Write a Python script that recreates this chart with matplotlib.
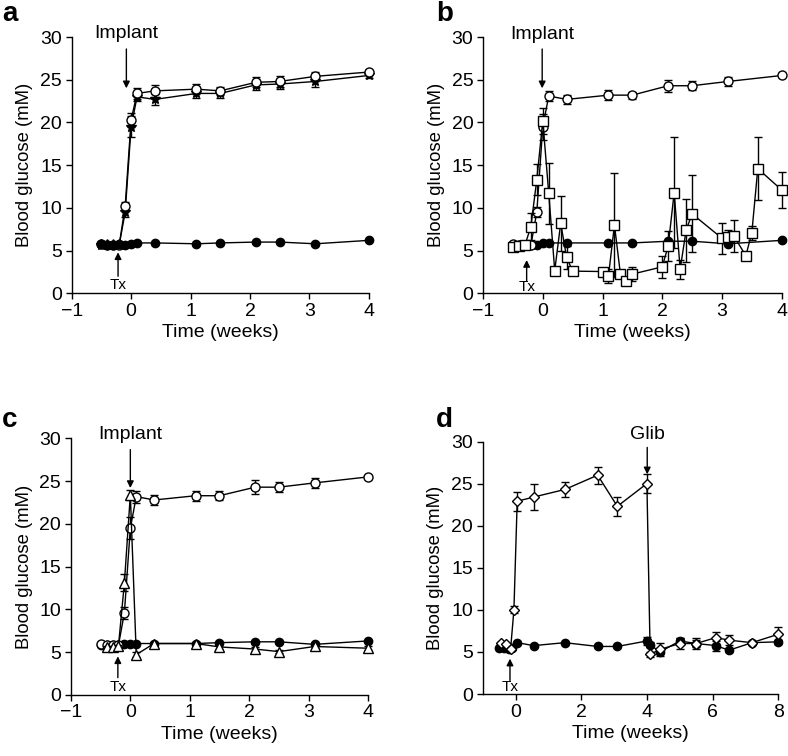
import matplotlib.pyplot as plt

plt.rcParams['font.family'] = ['Liberation Sans', 'DejaVu Sans']

# ---- panel a ----
a_x = [-0.5, -0.4, -0.3, -0.2, -0.1, 0.0, 0.1, 0.4, 1.1, 1.5, 2.1, 2.5, 3.1, 4.0]
a_open = [5.8, 5.6, 5.6, 5.7, 10.2, 20.3, 23.4, 23.7, 23.9, 23.7, 24.7, 24.8, 25.4, 25.9]
a_open_err = [0.2, 0.2, 0.2, 0.2, 0.5, 0.8, 0.6, 0.7, 0.6, 0.5, 0.6, 0.6, 0.5, 0.3]
a_star = [5.7, 5.6, 5.6, 5.7, 9.5, 19.5, 23.0, 22.7, 23.4, 23.4, 24.4, 24.5, 24.8, 25.5]
a_star_err = [0.2, 0.2, 0.2, 0.2, 0.6, 1.2, 0.5, 0.6, 0.5, 0.5, 0.6, 0.6, 0.6, 0.3]
a_ctrl = [5.8, 5.7, 5.7, 5.8, 5.7, 5.8, 5.9, 5.9, 5.8, 5.9, 6.0, 6.0, 5.8, 6.2]

# ---- panel b ----
b_x = [-0.5, -0.4, -0.3, -0.2, -0.1, 0.0, 0.1, 0.4, 1.1, 1.5, 2.1, 2.5, 3.1, 4.0]
b_open = [5.8, 5.7, 5.6, 5.6, 9.5, 19.5, 23.1, 22.7, 23.2, 23.2, 24.3, 24.3, 24.8, 25.5]
b_open_err = [0.2, 0.2, 0.2, 0.2, 0.6, 1.5, 0.6, 0.5, 0.6, 0.4, 0.7, 0.5, 0.5, 0.2]
b_ctrl = [5.7, 5.7, 5.6, 5.7, 5.7, 5.9, 5.9, 5.9, 5.9, 5.9, 6.1, 6.1, 5.8, 6.2]
b_sq_x = [-0.5, -0.4, -0.3, -0.2, -0.1, 0.0, 0.1, 0.2, 0.3, 0.4, 0.5, 1.0, 1.1, 1.2, 1.3,
          1.4, 1.5, 2.0, 2.1, 2.2, 2.3, 2.4, 2.5, 3.0, 3.1, 3.2, 3.4, 3.5, 3.6, 4.0]
b_sq = [5.4, 5.5, 5.6, 7.8, 13.3, 20.2, 11.7, 2.65, 8.2, 4.2, 2.6, 2.55, 2.05, 8.0, 2.25,
        1.4, 2.25, 3.1, 5.55, 11.8, 2.8, 7.4, 9.3, 6.45, 6.55, 6.7, 4.4, 7.1, 14.6, 12.1]
b_sq_err = [0.3, 0.3, 0.3, 1.6, 1.8, 1.5, 3.6, 0.3, 3.2, 1.3, 0.3, 0.3, 0.8, 6.1, 0.3,
            0.3, 0.8, 1.3, 1.8, 6.5, 1.1, 3.7, 4.5, 1.8, 0.9, 1.9, 0.3, 0.8, 3.7, 2.1]

# ---- panel c ----
c_x = [-0.5, -0.4, -0.3, -0.2, -0.1, 0.0, 0.1, 0.4, 1.1, 1.5, 2.1, 2.5, 3.1, 4.0]
c_open = [5.9, 5.8, 5.8, 5.8, 9.6, 19.5, 23.2, 22.8, 23.3, 23.3, 24.3, 24.3, 24.8, 25.5]
c_open_err = [0.1, 0.1, 0.1, 0.1, 0.7, 1.3, 0.7, 0.6, 0.6, 0.5, 0.8, 0.6, 0.6, 0.2]
c_tri_x = [-0.4, -0.3, -0.2, -0.1, 0.0, 0.1, 0.4, 1.1, 1.5, 2.1, 2.5, 3.1, 4.0]
c_tri = [5.6, 5.6, 5.7, 13.1, 23.4, 4.7, 6.0, 6.0, 5.6, 5.35, 5.05, 5.65, 5.45]
c_tri_err = [0.1, 0.1, 0.1, 1.0, 0.6, 0.3, 0.2, 0.2, 0.2, 0.2, 0.2, 0.2, 0.2]
c_ctrl = [5.8, 5.8, 5.8, 5.8, 5.9, 6.0, 6.0, 6.0, 6.0, 6.1, 6.2, 6.2, 5.9, 6.3]

# ---- panel d ----
d_dia_x = [-0.45, -0.3, -0.15, -0.05, 0.05, 0.55, 1.5, 2.5, 3.1, 4.0, 4.1, 4.4, 5.0, 5.5, 6.1, 6.5, 7.2, 8.0]
d_dia = [6.1, 6.0, 5.4, 10.0, 22.9, 23.4, 24.3, 26.0, 22.3, 25.0, 4.7, 5.3, 6.0, 6.0, 6.7, 6.4, 6.1, 7.1]
d_dia_err = [0.1, 0.1, 0.2, 0.4, 1.1, 1.5, 0.9, 1.0, 1.1, 1.1, 0.3, 0.8, 0.7, 0.6, 0.7, 0.6, 0.2, 0.9]
d_ctrl_x = [-0.5, -0.35, -0.2, -0.1, 0.05, 0.55, 1.5, 2.5, 3.1, 4.0, 4.1, 4.4, 5.0, 5.5, 6.1, 6.5, 7.2, 8.0]
d_ctrl = [5.5, 5.5, 5.4, 5.5, 6.1, 5.75, 6.1, 5.65, 5.65, 6.3, 5.85, 5.0, 6.3, 6.0, 5.75, 5.2, 6.1, 6.2]
d_ctrl_err = [0.1, 0.1, 0.1, 0.1, 0.1, 0.1, 0.1, 0.1, 0.1, 0.5, 0.3, 0.3, 0.4, 0.4, 0.6, 0.2, 0.1, 0.2]

FS = 14      # horizontal text
FS_Y = 13.3  # rotated y label
LW = 1.0


def style_axes(ax, xlim, xticks):
    ax.set_xlim(*xlim)
    ax.set_ylim(0, 30)
    ax.set_xticks(xticks)
    ax.set_xticklabels(['\u2212%d' % -t if t < 0 else '%d' % t for t in xticks])
    ax.set_yticks([0, 5, 10, 15, 20, 25, 30])
    ax.spines['top'].set_visible(False)
    ax.spines['right'].set_visible(False)
    ax.spines['left'].set_linewidth(LW)
    ax.spines['bottom'].set_linewidth(LW)
    ax.tick_params(direction='out', length=4, width=LW, pad=3, labelsize=FS)
    ax.set_xlabel('Time (weeks)', fontsize=FS, labelpad=3)
    ax.set_ylabel('Blood glucose (mM)', fontsize=FS_Y, labelpad=5)


def series(ax, x, y, err, marker, face, ms, z=3):
    ax.errorbar(x, y, yerr=err, fmt='-', color='k', lw=LW, marker=marker, ms=ms,
                mfc=face, mec='k', mew=LW, capsize=3, elinewidth=LW, capthick=LW, zorder=z,
                clip_on=False)


def arrow(ax, x, tail, tip, label, ty, fs):
    ax.annotate('', xy=(x, tip), xytext=(x, tail), annotation_clip=False,
                arrowprops=dict(arrowstyle='-|>', color='k', lw=LW, mutation_scale=10,
                                shrinkA=0, shrinkB=0))
    ax.text(x, ty, label, ha='center', va='center', fontsize=fs, clip_on=False)


fig = plt.figure(figsize=(7.88, 7.56), dpi=100)
ax_a = fig.add_axes([0.091, 0.612, 0.377, 0.339])
ax_b = fig.add_axes([0.613, 0.612, 0.379, 0.339])
ax_c = fig.add_axes([0.090, 0.081, 0.377, 0.339])
ax_d = fig.add_axes([0.6126, 0.082, 0.375, 0.334])

# a
series(ax_a, a_x, a_star, a_star_err, '*', 'k', 8)
series(ax_a, a_x, a_open, a_open_err, 'o', 'white', 6.5)
series(ax_a, a_x, a_ctrl, None, 'o', 'k', 6, z=4)
style_axes(ax_a, (-1, 4), [-1, 0, 1, 2, 3, 4])
arrow(ax_a, -0.08, 28.6, 24.0, 'Implant', 30.4, FS)
arrow(ax_a, -0.22, 2.0, 4.8, 'Tx', 1.0, 11)

# b
series(ax_b, b_x, b_ctrl, None, 'o', 'k', 6)
series(ax_b, b_x, b_open, b_open_err, 'o', 'white', 6.5)
series(ax_b, b_sq_x, b_sq, b_sq_err, 's', 'white', 6.5, z=4)
style_axes(ax_b, (-1, 4), [-1, 0, 1, 2, 3, 4])
arrow(ax_b, -0.01, 28.6, 24.0, 'Implant', 30.3, FS)
arrow(ax_b, -0.27, 1.4, 3.9, 'Tx', 0.7, 11)

# c
series(ax_c, c_x, c_ctrl, None, 'o', 'k', 6)
series(ax_c, c_x, c_open, c_open_err, 'o', 'white', 6.5)
series(ax_c, c_tri_x, c_tri, c_tri_err, '^', 'white', 7, z=4)
style_axes(ax_c, (-1, 4), [-1, 0, 1, 2, 3, 4])
arrow(ax_c, 0.0, 28.7, 24.2, 'Implant', 30.5, FS)
arrow(ax_c, -0.21, 2.0, 4.5, 'Tx', 0.9, 11)

# d
series(ax_d, d_ctrl_x, d_ctrl, d_ctrl_err, 'o', 'k', 6)
series(ax_d, d_dia_x, d_dia, d_dia_err, 'D', 'white', 5.5, z=4)
style_axes(ax_d, (-1, 8), [0, 2, 4, 6, 8])
arrow(ax_d, 4.01, 29.3, 26.1, 'Glib', 30.8, FS)
arrow(ax_d, -0.17, 1.6, 4.2, 'Tx', 0.8, 11)

for lab, (lx, ly) in zip('abcd', [(0.003, 0.972), (0.553, 0.972), (0.003, 0.435), (0.553, 0.435)]):
    fig.text(lx, ly, lab, fontsize=20, fontweight='bold', ha='left', va='baseline')

fig.savefig('out.png', dpi=100)
